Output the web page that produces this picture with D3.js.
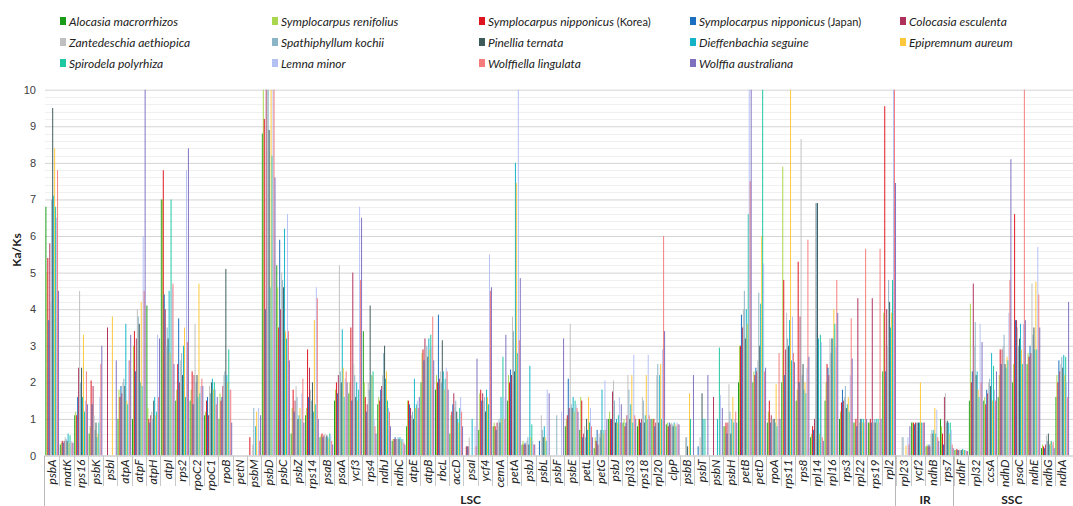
<!DOCTYPE html>
<html>
<head>
<meta charset="utf-8">
<script src="https://cdn.jsdelivr.net/npm/d3@7"></script>
<style>
  body { margin: 0; background: #fff; }
  svg { display: block; font-family: Lato, "Open Sans", sans-serif; }
</style>
</head>
<body>
<svg id="chart" width="1073" height="506"></svg>
<script>
// gene names along the x axis, grouped by genome region
var genes = ["psbA","matK","rps16","psbK","psbI","atpA","atpF","atpH","atpI","rps2","rpoC2","rpoC1","rpoB","petN","psbM",
  "psbD","psbC","psbZ","rps14","psaB","psaA","ycf3","rps4","ndhJ","ndhC","atpE","atpB","rbcL","accD","psaI","ycf4","cemA",
  "petA","psbJ","psbL","psbF","psbE","petL","petG","psaJ","rpl33","rps18","rpl20","clpP","psbB","psbT","psbN","psbH","petB",
  "petD","rpoA","rps11","rps8","rpl14","rpl16","rps3","rpl22","rps19","rpl2",
  "rpl23","ycf2","ndhB","rps7",
  "ndhF","rpl32","ccsA","ndhD","psaC","ndhE","ndhG","ndhA"];
// shown label (the original figure prints psaJ as psbJ)
var geneLabels = genes.map(function(g) { return g == "psaJ" ? "psbJ" : g; });

var regionNames = ["LSC", "IR", "SSC"];
var regionSizes = [59, 4, 8];

var species = ["Alocasia macrorrhizos", "Symplocarpus renifolius", "Symplocarpus nipponicus (Korea)",
  "Symplocarpus nipponicus (Japan)", "Colocasia esculenta", "Zantedeschia aethiopica", "Spathiphyllum kochii",
  "Pinellia ternata", "Dieffenbachia seguine", "Epipremnum aureum", "Spirodela polyrhiza", "Lemna minor",
  "Wolffiella lingulata", "Wolffia australiana"];
var speciesColors = ["#1a9c1a", "#a8d64c", "#e0141e", "#1a6fc0", "#b0305c", "#c0c0c0", "#8cb4c8",
  "#3c5a5a", "#14b4c8", "#ffc83c", "#1ec8a0", "#b4c0f4", "#f47c7c", "#8070c0"];

var yTicks = [0,1,2,3,4,5,6,7,8,9,10];

// Ka/Ks per gene, one value per species (same order as species); values above 10 run off the axis
var kaks = [
  [6.8,5.0,5.4,3.7,5.8,4.2,7.0,9.5,7.1,8.4,6.8,6.5,7.8,4.5],
  [0.3,0.35,0.4,0.35,0.4,0.5,0.45,0.4,0.6,0.35,0.55,0.4,0.35,0.35],
  [1.1,1.2,1.1,1.6,2.4,4.5,2.0,2.4,1.6,3.3,1.2,1.5,2.3,1.4],
  [0.6,0.8,2.05,1.4,1.9,1.1,0.7,0.9,0.5,0.6,0.9,1.6,2.5,3.0],
  [0,0,0,0,3.5,0,0,0,0,3.8,0,0,0,2.6],
  [1.0,1.8,1.6,1.9,1.7,2.0,2.1,1.9,3.6,1.5,1.4,2.6,2.6,3.3],
  [1.0,3.0,3.4,2.3,3.2,4.0,3.8,3.6,2.0,4.2,1.9,6.0,4.5,10.5],
  [4.1,1.3,1.0,0.9,1.1,1.2,1.0,1.5,1.6,1.1,1.2,3.3,1.6,3.2],
  [7.0,7.0,7.8,4.4,4.0,3.0,3.5,3.2,4.5,2.8,7.0,4.6,4.7,2.5],
  [1.5,1.8,2.5,3.75,2.0,2.6,2.8,2.2,3.0,3.5,1.6,7.8,3.1,8.4],
  [1.5,1.8,2.3,1.4,2.2,3.6,2.0,2.2,1.6,4.7,1.7,1.9,2.1,1.9],
  [1.1,1.2,1.5,1.6,1.1,1.9,1.7,2.0,2.1,1.8,2.0,1.8,1.4,1.6],
  [1.0,1.7,1.5,1.6,1.9,2.2,2.3,5.1,2.2,2.0,2.9,1.8,1.8,0.9],
  [0,0,0,0,0,0,0,0,0,0,0,0,0,0],
  [0,0,0.5,0,0,0.3,1.3,0,0.8,1.2,0,1.3,0.4,1.1],
  [8.8,10.5,9.2,4.0,10.5,10.5,10.5,8.9,4.6,10.5,8.2,10.5,12,7.6],
  [5.2,4.6,3.5,5.9,4.0,5.0,4.8,4.6,6.2,3.4,3.2,6.6,3.4,2.6],
  [0.6,1.3,1.8,1.2,1.5,1.9,1.6,1.0,1.1,1.3,1.0,1.7,2.1,0.9],
  [1.1,1.3,2.9,1.6,2.4,1.8,1.5,2.0,1.2,3.7,1.4,4.6,4.3,1.0],
  [0.5,0.55,0.6,0.5,0.55,0.6,0.5,0.55,0.5,0.45,0.6,0.55,0.4,0.3],
  [1.5,1.8,2.0,1.7,2.2,5.2,2.3,2.0,3.45,2.4,1.6,2.1,2.3,2.0],
  [1.7,2.0,3.5,1.5,5.0,2.5,2.2,1.6,2.0,1.5,1.8,6.8,4.8,6.5],
  [3.4,2.0,1.6,1.2,1.4,2.0,1.8,4.1,2.2,2.2,2.3,1.0,0.8,0.6],
  [1.4,1.6,1.5,1.8,1.9,2.2,2.8,3.0,2.1,2.3,1.5,1.3,1.2,0.8],
  [0.4,0.45,0.45,0.5,0.45,0.45,0.5,0.45,0.5,0.4,0.45,0.45,0.35,0.3],
  [0.8,1.5,1.5,1.4,1.3,1.1,1.2,1.0,2.1,1.3,1.4,1.5,1.3,1.6],
  [2.0,2.8,2.9,2.6,3.2,3.0,3.0,2.7,3.2,2.9,3.3,3.0,3.8,2.6],
  [1.8,2.2,2.0,3.85,2.1,2.3,2.0,3.15,2.3,1.8,2.1,2.4,2.3,1.8],
  [0.6,1.1,1.2,1.4,1.7,1.3,1.5,1.2,1.0,0.9,1.3,1.6,1.2,0.8],
  [0,0,0.25,0.25,0.25,0.5,0,0,1.0,0,0,0.8,0.25,2.65],
  [0.7,1.7,1.8,1.5,1.7,1.5,1.6,1.2,1.8,1.6,1.4,5.5,4.5,4.6],
  [0.8,0.9,0.8,0.7,0.9,0.8,1.0,0.9,1.6,1.0,2.7,1.6,1.0,3.3],
  [1.5,2.2,2.0,2.35,2.2,3.8,3.4,2.3,8.0,7.45,2.8,10.5,3.15,4.85],
  [0.3,0.4,0.3,0.35,0.3,0.4,0.5,0.3,2.45,0.5,0.85,0.4,0.3,0.3],
  [0,0,0,0.4,0,1.1,0.7,0.5,0.8,0.5,0.4,1.8,0,1.7],
  [0,0,0,0,0,0,1.1,0,0,0,0,1.2,0,3.2],
  [0.8,1.0,1.1,2.1,1.3,3.6,1.4,1.3,1.6,1.2,1.5,1.4,1.3,1.2],
  [0.7,1.6,1.5,0.5,0.6,0.8,0.5,1.0,0.7,1.6,0.9,1.3,0.8,0.5],
  [0.2,0.5,0.4,0.7,0.3,0.6,0.5,0.7,1.8,0.6,0.7,2.05,0.7,1.0],
  [1.0,1.2,1.0,1.0,1.75,2.05,1.5,0.9,1.0,0.9,1.1,1.6,0.9,1.4],
  [0.9,1.0,0.8,0.9,1.1,2.2,1.8,1.0,1.4,2.2,0.9,2.75,1.1,1.0],
  [0.8,1.0,1.0,0.9,1.0,1.6,1.5,0.9,1.1,2.2,1.0,2.75,1.1,1.0],
  [1.0,1.0,1.0,0.8,0.9,2.2,2.5,0.9,2.2,2.5,1.0,2.9,6.0,3.4],
  [0.85,0.9,0.8,0.9,0.85,0.9,0.85,0.8,0.9,0.85,0.8,0.9,0.85,0.85],
  [0,0,0,0,0,0.5,0.5,0.25,0,1.7,1.0,0,0,2.2],
  [0,0,0,0.25,0,0.5,0,1.7,1.0,0,1.0,0,0,2.2],
  [0,0,0,0,1.6,0,0,0,1.0,0,2.95,1.65,0,1.3],
  [0.8,0.8,0.9,0.6,0.9,1.95,1.2,0.6,1.0,1.6,0.9,1.0,1.2,0.9],
  [2.0,3.0,3.0,3.85,3.5,4.0,4.5,3.2,4.0,3.6,6.6,10.5,7.5,10.5],
  [2.0,2.3,2.2,2.4,2.3,2.6,4.45,3.0,4.15,6.0,10.5,5.25,2.3,2.4],
  [0.9,1.2,1.5,0.9,1.1,1.0,1.0,1.0,0.9,1.95,0.8,1.0,2.8,1.0],
  [2.0,7.9,4.8,2.2,2.9,3.9,3.2,3.0,3.7,10.5,2.6,3.8,2.8,2.55],
  [1.5,1.8,5.3,2.0,3.8,8.65,2.2,2.5,1.8,2.0,1.7,2.4,5.9,2.7],
  [0.5,0.6,0.8,0.7,1.0,6.9,6.9,6.9,3.2,0.6,3.3,3.1,0.5,0.4],
  [1.5,2.0,2.5,2.4,2.2,3.2,2.8,3.2,3.2,4.0,3.6,3.0,4.8,3.9],
  [1.0,1.2,1.45,1.8,1.5,1.6,1.9,1.3,1.4,1.6,1.2,2.2,3.75,2.65],
  [0.9,0.9,1.0,0.8,4.3,1.0,0.9,1.0,1.0,0.9,1.0,0.9,5.65,1.0],
  [0.9,0.9,1.0,0.9,4.3,0.9,1.0,0.9,1.0,0.9,1.0,0.9,5.65,1.0],
  [2.3,3.9,9.55,2.3,4.0,3.0,4.8,4.2,3.5,3.9,4.8,10.5,10.5,7.45],
  [0,0,0,0,0,0.5,0.5,0,0,0.27,0,0.5,0.3,0.8],
  [0.9,0.9,0.9,0.85,0.9,0.9,0.9,0.9,0.9,2.0,0.9,0.9,0.9,0.9],
  [0.25,0.3,0.25,0.3,0.25,0.6,0.7,0.6,0.7,1.3,0.6,1.25,0.5,0.4],
  [1.0,0.8,0.6,0.3,1.6,1.7,0.9,0.95,0.9,0.6,0.9,0.7,0.3,0.2],
  [0.15,0.15,0.18,0.15,0.15,0.16,0.15,0.15,0.18,0.14,0.15,0.15,0.12,0.12],
  [1.5,4.15,2.0,2.3,4.7,3.0,3.65,2.2,2.3,1.8,1.6,3.6,2.0,3.1],
  [1.5,1.6,1.4,1.8,1.7,2.0,2.1,1.9,2.8,1.5,2.45,1.8,1.5,2.3],
  [1.6,2.2,2.9,2.5,2.9,3.0,3.3,2.5,2.4,2.7,2.6,3.9,4.8,8.1],
  [2.0,2.5,6.6,3.7,3.7,3.5,3.0,3.2,3.6,2.9,2.5,3.6,10.5,3.7],
  [2.5,2.8,2.7,3.0,2.8,4.7,3.3,3.5,2.9,4.75,2.9,5.7,4.4,3.5],
  [0.2,0.3,0.25,0.2,0.3,0.55,0.4,0.6,0.3,0.35,0.4,0.3,0.37,0.2],
  [1.6,2.2,2.0,2.6,2.3,2.5,2.7,2.4,2.75,2.2,2.7,2.0,1.6,4.2]
];

// plot area
var plotLeft = 45, plotRight = 1069.5, plotTop = 89.7, plotBottom = 455.5;

var svg = d3.select("#chart");

var x0 = d3.scaleBand().domain(genes).range([plotLeft, plotRight]).padding(0);
var x1 = d3.scaleBand().domain(species).range([0.4, x0.bandwidth() - 0.4]).padding(0);
var y = d3.scaleLinear().domain([0, 10]).range([plotBottom, plotTop]);
var color = d3.scaleOrdinal().domain(species).range(speciesColors);

// minor and major gridlines
var minor = d3.range(0, 50).filter(function(d) { return d % 5 != 0; }).map(function(d) { return d / 5; });
svg.append("g").selectAll("line").data(minor).enter().append("line")
  .attr("x1", plotLeft).attr("x2", 1073)
  .attr("y1", function(d) { return Math.round(y(d)) + 0.5; })
  .attr("y2", function(d) { return Math.round(y(d)) + 0.5; })
  .attr("stroke", "#f0f0f0");

svg.append("g")
  .attr("transform", "translate(" + plotLeft + ",0)")
  .call(d3.axisLeft(y).tickValues(yTicks).tickSize(-(1073 - plotLeft)).tickPadding(9))
  .call(function(g) {
    g.select(".domain").remove();
    g.selectAll(".tick line").attr("stroke", "#d4d4d4");
    g.selectAll(".tick text").attr("fill", "#404040").style("font-size", "11px");
  });

// bars
svg.append("clipPath").attr("id", "plotClip")
  .append("rect").attr("x", 0).attr("y", plotTop).attr("width", 1073).attr("height", plotBottom - plotTop);

var groups = svg.append("g").attr("clip-path", "url(#plotClip)")
  .selectAll("g").data(kaks).enter().append("g")
  .attr("transform", function(d, i) { return "translate(" + x0(genes[i]) + ",0)"; });

groups.selectAll("rect")
  .data(function(row) { return row.map(function(v, j) { return { sp: species[j], v: v }; }); })
  .enter().append("rect")
  .attr("x", function(d) { return x1(d.sp); })
  .attr("width", x1.bandwidth())
  .attr("y", function(d) { return y(d.v); })
  .attr("height", function(d) { return plotBottom - y(d.v); })
  .attr("fill", function(d) { return color(d.sp); });

// x axis line
svg.append("line").attr("x1", plotLeft).attr("x2", 1073).attr("y1", plotBottom + 0.5).attr("y2", plotBottom + 0.5)
  .attr("stroke", "#d0d0d0");

// category separators below the axis
svg.append("g").selectAll("line").data(genes.slice(1)).enter().append("line")
  .attr("x1", function(d) { return Math.round(x0(d)) + 0.5; })
  .attr("x2", function(d) { return Math.round(x0(d)) + 0.5; })
  .attr("y1", plotBottom).attr("y2", 486)
  .attr("stroke", "#c8c8c8");

// gene labels
svg.append("g").selectAll("text").data(genes).enter().append("text")
  .attr("transform", function(d) { return "translate(" + (x0(d) + x0.bandwidth() / 2) + "," + (plotBottom + 4) + ")rotate(-90)"; })
  .attr("dy", "0.35em")
  .attr("text-anchor", "end")
  .style("font-size", "12px")
  .style("font-style", "italic")
  .attr("fill", "#222")
  .text(function(d, i) { return geneLabels[i]; });

// region separators and labels
var starts = [0];
regionSizes.forEach(function(n, i) { starts.push(starts[i] + n); });
svg.append("g").selectAll("line").data(starts.slice(0, 3)).enter().append("line")
  .attr("x1", function(d) { return Math.round(plotLeft + d * x0.step()) - 0.5; })
  .attr("x2", function(d) { return Math.round(plotLeft + d * x0.step()) - 0.5; })
  .attr("y1", plotBottom).attr("y2", 506)
  .attr("stroke", "#b8b8b8");

svg.append("g").selectAll("text").data(regionNames).enter().append("text")
  .attr("x", function(d, i) { return plotLeft + (starts[i] + regionSizes[i] / 2) * x0.step(); })
  .attr("y", 504)
  .attr("text-anchor", "middle")
  .style("font-size", "12px")
  .style("font-weight", "bold")
  .attr("fill", "#222")
  .text(function(d) { return d; });

// y axis title
svg.append("text")
  .attr("transform", "translate(21,250)rotate(-90)")
  .attr("text-anchor", "middle")
  .style("font-size", "12px")
  .style("font-weight", "bold")
  .attr("fill", "#222")
  .text("Ka/Ks");

// legend, 5 columns
var legendX = [60, 272, 479, 690, 900];
var legendY = [21, 42, 63];
var legend = svg.append("g").selectAll("g").data(species).enter().append("g")
  .attr("transform", function(d, i) { return "translate(" + legendX[i % 5] + "," + legendY[Math.floor(i / 5)] + ")"; });

legend.append("rect")
  .attr("x", 0).attr("y", -4).attr("width", 6).attr("height", 8)
  .attr("fill", function(d) { return color(d); });

legend.append("text")
  .attr("x", 9).attr("y", 4.5)
  .style("font-size", "12px")
  .attr("fill", "#222")
  .each(function(d) {
    var m = d.match(/^(.*?)( \(.*\))?$/);
    var t = d3.select(this);
    t.append("tspan").style("font-style", "italic").text(m[1]);
    if (m[2]) t.append("tspan").style("font-size", "11px").text(m[2]);
  });
</script>
</body>
</html>
